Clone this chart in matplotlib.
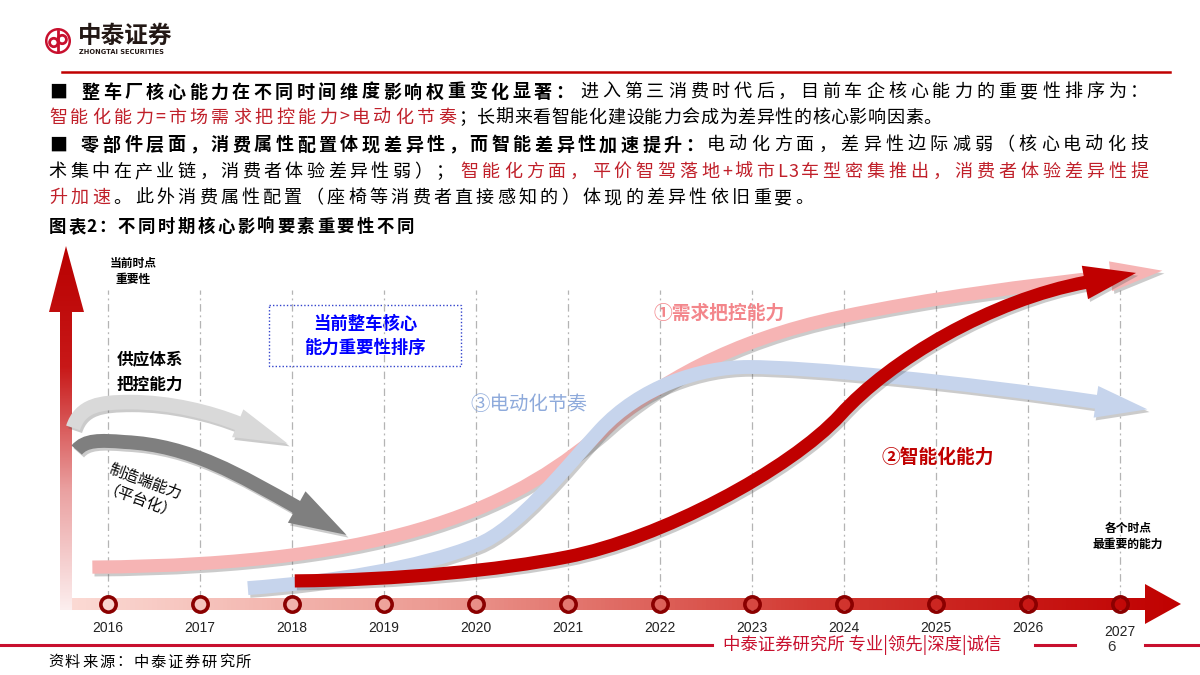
import matplotlib.pyplot as plt
import matplotlib.patheffects as pe
import numpy as np
from matplotlib.colors import LinearSegmentedColormap
from matplotlib.patches import Circle, PathPatch, Polygon, Rectangle
from matplotlib.path import Path

plt.rcParams['font.family'] = ['Noto Sans CJK SC', 'DejaVu Sans']

# ---- data -------------------------------------------------------------
years = list(range(2016, 2028))
year_labels = [str(y) for y in years]

# cubic bezier control points (year, importance score): P0 C C P1 C C P2 ...
demand_year = [2015.83, 2019.17, 2020.48, 2021.46, 2021.95, 2022.76, 2023.96, 2024.93, 2026.02, 2026.92]
demand_score = [12.3, 13.0, 33.0, 59.7, 73.0, 88.0, 95.7, 102.0, 106.3, 109.3]
elec_year = [2017.52, 2018.41, 2019.39, 2020.01, 2020.45, 2020.97, 2021.35, 2021.78, 2022.43, 2022.96,
             2023.61, 2025.26, 2026.76]
elec_score = [5.3, 7.3, 12.0, 19.7, 25.0, 45.3, 58.0, 72.3, 79.0, 79.0, 79.0, 74.0, 67.3]
smart_year = [2018.03, 2019.17, 2020.26, 2020.99, 2022.00, 2023.41, 2023.96, 2024.50, 2025.59, 2026.64]
smart_score = [7.7, 8.0, 11.3, 15.7, 21.7, 44.7, 63.0, 81.3, 101.3, 107.3]
supply_year = [2015.62, 2015.70, 2015.91, 2016.24, 2016.67, 2017.11, 2017.43]
supply_score = [58.7, 66.3, 67.3, 67.3, 67.3, 64.0, 60.0]
manuf_year = [2015.66, 2015.75, 2015.91, 2016.18, 2016.89, 2017.43, 2018.07]
manuf_score = [51.3, 54.7, 54.7, 54.0, 53.0, 43.0, 32.0]

# ---- layout (pixels) -------------------------------------------------
W, H = 1200, 675
X_2016, PX_YEAR = 108, 92      # pixel of first year, pixels per year
Y_AXIS, PX_SCORE = 604, 3      # pixel row of time axis, pixels per score unit
RED = '#c00000'
TXT_RED = '#c0202a'

fig = plt.figure(figsize=(12, 6.75), dpi=100)
bg = fig.add_axes([0, 0, 1, 1])
bg.set_xlim(0, W)
bg.set_ylim(H, 0)
bg.set_axis_off()

cl, cr, ct, cb = 40, 1190, 240, 645
ax = fig.add_axes([cl / W, (H - cb) / H, (cr - cl) / W, (cb - ct) / H])
ax.set_xlim(2016 + (cl - X_2016) / PX_YEAR, 2016 + (cr - X_2016) / PX_YEAR)
ax.set_ylim((Y_AXIS - cb) / PX_SCORE, (Y_AXIS - ct) / PX_SCORE)
ax.set_axis_off()
ax.patch.set_alpha(0)


def put_run(x0, x1, y, s, color='black', bold=False, size=13):
    # spread characters evenly between x0 and x1 (justified line)
    w = [0.5 if ord(c) < 128 else 1.0 for c in s]
    pitch = (x1 - x0) / sum(w)
    x = x0
    for c, wi in zip(s, w):
        if c != ' ':
            bg.text(x + wi * pitch / 2, y, c, ha='center', va='center', fontsize=size,
                    color=color, fontweight='bold' if bold else 'normal')
        x += wi * pitch


def arrow_curve(xs, ys, color, lw, head_len, head_w, z):
    verts = list(zip(xs, ys))
    codes = [Path.MOVETO] + [Path.CURVE4] * (len(verts) - 1)
    shadow = [pe.SimpleLineShadow(offset=(1.5, -2), shadow_color='#555555', alpha=0.3), pe.Normal()]
    ax.add_patch(PathPatch(Path(verts, codes), fc='none', ec=color, lw=lw, capstyle='butt',
                           zorder=z, path_effects=shadow))
    tr = ax.transData
    p1 = tr.transform(verts[-1])
    p0 = tr.transform(verts[-2])
    d = (p1 - p0) / np.hypot(*(p1 - p0))
    n = np.array([-d[1], d[0]])
    base = p1 - d * 2
    tri = tr.inverted().transform([base + n * head_w, p1 + d * head_len, base - n * head_w])
    ax.add_patch(Polygon(tri, closed=True, fc=color, ec='none', zorder=z,
                         path_effects=[pe.SimplePatchShadow(offset=(1.5, -2), shadow_rgbFace='#555555',
                                                            alpha=0.3), pe.Normal()]))


# ---- header ----------------------------------------------------------
bg.add_patch(Circle((58, 41), 13, fc='#c8102e', ec='none'))
bg.add_patch(Circle((58, 41), 10.5, fc='white', ec='none'))
bg.add_patch(Circle((53.8, 42.5), 4.2, fc='none', ec='#c8102e', lw=2))
bg.add_patch(Circle((62.2, 39.5), 4.2, fc='none', ec='#c8102e', lw=2))
bg.plot([58, 58], [31, 51], color='#c8102e', lw=2)
bg.text(78, 36, '中泰证券', ha='left', va='center', fontsize=17, fontweight='bold', color='#231815')
bg.text(79, 52.5, 'ZHONGTAI SECURITIES', ha='left', va='center', fontsize=4.8, fontweight='bold',
        color='#231815', family='DejaVu Sans')
bg.plot([62, 1170], [72, 72], color=RED, lw=1.8)

put_run(47, 575, 92, '■ 整车厂核心能力在不同时间维度影响权重变化显著：', bold=True)
put_run(578, 1150, 92, '进入第三消费时代后，目前车企核心能力的重要性排序为：')
put_run(47, 458, 118, '智能化能力=市场需求把控能力>电动化节奏', color=TXT_RED)
put_run(458, 942, 118, '；长期来看智能化建设能力会成为差异性的核心影响因素。')
put_run(47, 705, 145, '■ 零部件层面，消费属性配置体现差异性，而智能差异性加速提升：', bold=True)
put_run(705, 1150, 145, '电动化方面，差异性边际减弱（核心电动化技')
put_run(47, 455, 172, '术集中在产业链，消费者体验差异性弱）；')
put_run(458, 1150, 172, '智能化方面，平价智驾落地+城市L3车型密集推出，消费者体验差异性提', color=TXT_RED)
put_run(47, 112, 198, '升加速', color=TXT_RED)
put_run(112, 815, 198, '。此外消费属性配置（座椅等消费者直接感知的）体现的差异性依旧重要。')
put_run(47, 415, 227, '图表2：不同时期核心影响要素重要性不同', bold=True, size=12.5)

# ---- axis arrows (gradient) ----------------------------------------
h_cmap = LinearSegmentedColormap.from_list('h', ['#fcdcd6', '#ec9a92', '#d33a33', '#c00000'])
v_cmap = LinearSegmentedColormap.from_list('v', ['#fdf0f0', '#eaa0a0', '#c81818', '#b80000'])

h_poly = Polygon([(62, 598), (1145, 598), (1145, 584), (1181, 604), (1145, 624), (1145, 610), (62, 610)],
                 closed=True, fc='none', ec='none', transform=bg.transData)
bg.add_patch(h_poly)
im = bg.imshow(np.linspace(0, 1, 256)[None, :], cmap=h_cmap, extent=[60, 1185, 626, 582],
               aspect='auto', zorder=2)
im.set_clip_path(h_poly)

v_poly = Polygon([(60, 610), (60, 312), (49, 312), (66, 246), (84, 312), (72, 312), (72, 610)],
                 closed=True, fc='none', ec='none', transform=bg.transData)
bg.add_patch(v_poly)
im2 = bg.imshow(np.linspace(1, 0, 256)[:, None], cmap=v_cmap, extent=[46, 86, 612, 244],
                aspect='auto', zorder=2)
im2.set_clip_path(v_poly)
bg.set_xlim(0, W)
bg.set_ylim(H, 0)

# ---- chart ----------------------------------------------------------
ax.vlines(years, 2, (Y_AXIS - 290) / PX_SCORE, colors='#b4b4b4', lw=0.9,
          linestyles=[(0, (6, 3, 1.5, 3))], zorder=1)
ax.plot(years, [0] * len(years), 'o', ms=11, mfc='none', mec='#8b0000', mew=2.6, zorder=7)
for y, lab in zip(years, year_labels):
    ax.text(y, -8 if y < 2027 else -9.3, lab, ha='center', va='center', fontsize=10,
            family=['Liberation Sans Narrow', 'Liberation Sans'], color='#222222')

arrow_curve(supply_year, supply_score, '#d9d9d9', 10.5, 52, 15, 3)
arrow_curve(manuf_year, manuf_score, '#7f7f7f', 10, 55, 18, 3)
arrow_curve(demand_year, demand_score, '#f6b4b4', 9.5, 50, 15, 4)
arrow_curve(elec_year, elec_score, '#c6d4ec', 10, 50, 16, 5)
arrow_curve(smart_year, smart_score, RED, 9.5, 50, 17, 6)

# ---- chart labels ---------------------------------------------------
bg.text(133, 263, '当前时点', ha='center', va='center', fontsize=8.5, fontweight='bold')
bg.text(133, 280, '重要性', ha='center', va='center', fontsize=8.5, fontweight='bold')
bg.text(150, 359, '供应体系', ha='center', va='center', fontsize=12, fontweight='bold')
bg.text(150, 385, '把控能力', ha='center', va='center', fontsize=12, fontweight='bold')
bg.text(145, 482, '制造端能力', ha='center', va='center', fontsize=11, rotation=-20)
bg.text(139, 503, '（平台化）', ha='center', va='center', fontsize=11, rotation=-20)

bg.add_patch(Rectangle((269, 305), 192, 61, fc='white', ec='#3344cc', lw=1, ls=(0, (1, 1.5)), zorder=3))
bg.text(365, 324, '当前整车核心', ha='center', va='center', fontsize=12.5, fontweight='bold', color='#0000ff', zorder=4)
bg.text(365, 348, '能力重要性排序', ha='center', va='center', fontsize=12.5, fontweight='bold', color='#0000ff', zorder=4)

fig.text(470 / W, 1 - 405 / H, '③电动化节奏', ha='left', va='center', fontsize=14, color='#8eaadb', zorder=9)
fig.text(653 / W, 1 - 313 / H, '①需求把控能力', ha='left', va='center', fontsize=13.5, fontweight='bold',
         color='#f3868b', zorder=9)
fig.text(882 / W, 1 - 457 / H, '②智能化能力', ha='left', va='center', fontsize=13.5, fontweight='bold',
         color=RED, zorder=9)
fig.text(1128 / W, 1 - 528 / H, '各个时点', ha='center', va='center', fontsize=8.5, fontweight='bold', zorder=9)
fig.text(1128 / W, 1 - 544 / H, '最重要的能力', ha='center', va='center', fontsize=8.5, fontweight='bold', zorder=9)

# ---- footer ---------------------------------------------------------
bg.plot([0, 712], [645, 645], color='#c8102e', lw=2.2)
bg.text(723, 645, '中泰证券研究所 专业|领先|深度|诚信', ha='left', va='center', fontsize=12.5, color='#c8102e')
bg.plot([1035, 1075], [645, 645], color='#c8102e', lw=2.2)
bg.text(1112, 647, '6', ha='center', va='center', fontsize=11, color='#333333', family='Liberation Sans')
bg.plot([1145, 1200], [645, 645], color='#c8102e', lw=2.2)
put_run(47, 252, 662, '资料来源：中泰证券研究所', size=11)

fig.savefig('out.png', dpi=100)
